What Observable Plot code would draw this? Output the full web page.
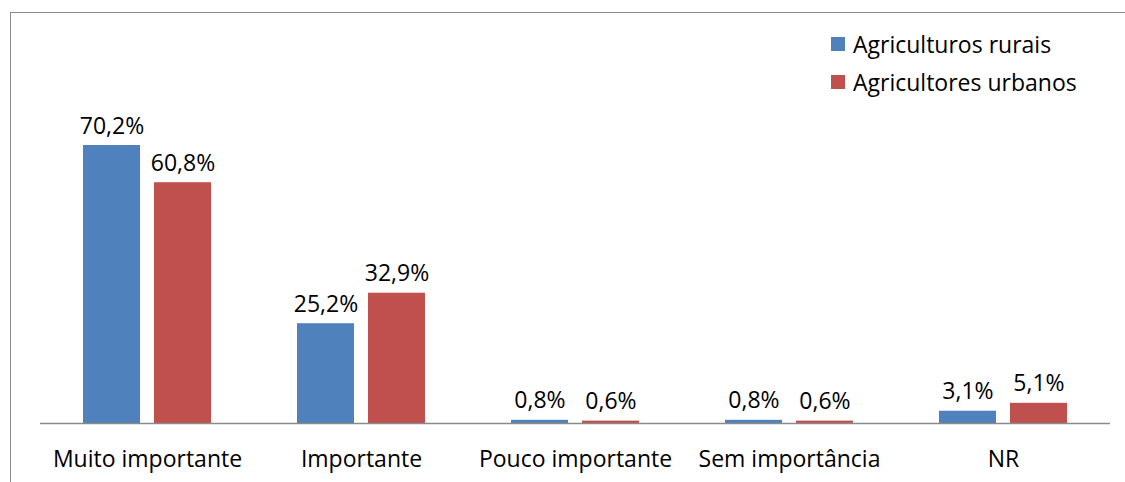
<!DOCTYPE html>
<html><head><meta charset="utf-8">
<script src="https://cdn.jsdelivr.net/npm/d3@7"></script>
<script src="https://cdn.jsdelivr.net/npm/@observablehq/plot@0.6"></script>
<style>
body{margin:0;background:#fff;}
#wrap{position:relative;width:1125px;height:482px;overflow:hidden;font-family:"Open Sans",sans-serif;background:#fff;}
#frame{position:absolute;left:10px;top:12px;width:1200px;height:600px;border-left:1.5px solid #8a8a8a;border-top:1.5px solid #8a8a8a;}
#chart{position:absolute;left:0;top:0;}
#legend{position:absolute;left:831px;top:25px;font-size:23px;color:#000;}
.item{display:flex;align-items:center;height:38px;white-space:nowrap;}
.sw{width:14px;height:14px;margin-right:8px;flex:none;}
</style></head>
<body><div id="wrap"><div id="frame"></div><div id="chart"></div><div id="legend"></div></div>
<script>
const categories = ["Muito importante", "Importante", "Pouco importante", "Sem importância", "NR"];
const series = ["Agriculturos rurais", "Agricultores urbanos"];
const rurais = [70.2, 25.2, 0.8, 0.8, 3.1];
const urbanos = [60.8, 32.9, 0.6, 0.6, 5.1];
const colors = ["#4F81BD", "#C0504D"];

const data = categories.flatMap((c, i) => [
  {category: c, series: series[0], value: rurais[i]},
  {category: c, series: series[1], value: urbanos[i]}
]);
const fmt = v => v.toFixed(1).replace(".", ",") + "%";

const chart = Plot.plot({
  width: 1125, height: 482,
  marginLeft: 40, marginRight: 15, marginTop: 27, marginBottom: 59,
  style: {fontFamily: "Open Sans", fontSize: "23px", color: "#000", background: "transparent"},
  fx: {domain: categories, padding: 0, label: null},
  x: {domain: series, paddingInner: 0.197, paddingOuter: 0.6055, axis: null},
  y: {domain: [0, 100], axis: null},
  color: {domain: series, range: colors},
  marks: [
    Plot.barY(data, {fx: "category", x: "series", y: "value", fill: "series"}),
    Plot.ruleY([0], {stroke: "#8a8a8a", strokeWidth: 1.5}),
    Plot.text(data, {fx: "category", x: "series", y: "value", text: d => fmt(d.value), lineAnchor: "bottom", dy: -12, fill: "#000", fontSize: 23}),
    Plot.axisFx({anchor: "bottom", tickSize: 0, tickPadding: 27, label: null, fontSize: 23, fill: "#000"})
  ]
});
document.getElementById("chart").append(chart);

const legend = document.getElementById("legend");
series.forEach((s, i) => {
  const item = document.createElement("div");
  item.className = "item";
  const sw = document.createElement("div");
  sw.className = "sw";
  sw.style.background = colors[i];
  const t = document.createElement("span");
  t.textContent = s;
  item.append(sw, t);
  legend.append(item);
});
</script>
</body></html>
